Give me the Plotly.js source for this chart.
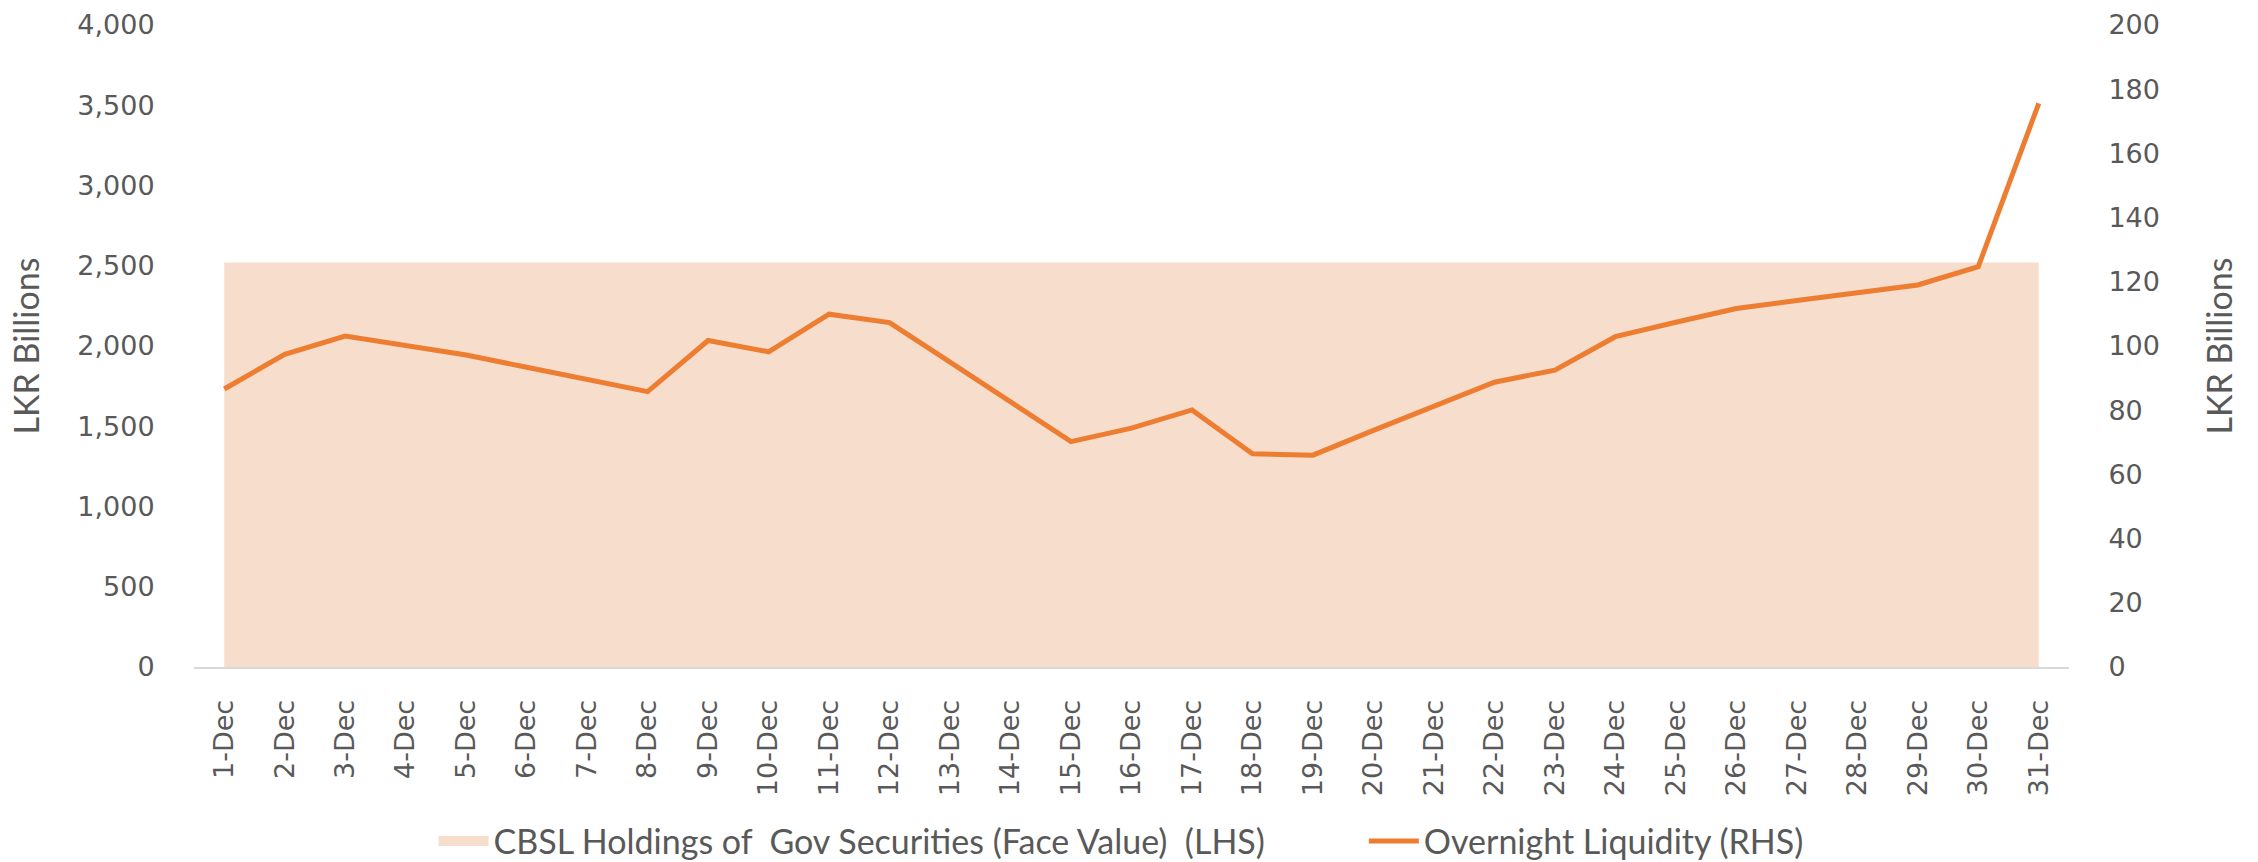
<!DOCTYPE html>
<html>
<head>
<meta charset="utf-8">
<script src="https://cdn.plot.ly/plotly-3.0.1.min.js"></script>
<style>
  html, body { margin: 0; padding: 0; background: #ffffff; }
  #chart { width: 2258px; height: 862px; }
</style>
</head>
<body>
<div id="chart"></div>
<script>
const dates = ['1-Dec','2-Dec','3-Dec','4-Dec','5-Dec','6-Dec','7-Dec','8-Dec','9-Dec','10-Dec',
  '11-Dec','12-Dec','13-Dec','14-Dec','15-Dec','16-Dec','17-Dec','18-Dec','19-Dec','20-Dec',
  '21-Dec','22-Dec','23-Dec','24-Dec','25-Dec','26-Dec','27-Dec','28-Dec','29-Dec','30-Dec','31-Dec'];

const holdings = [2520, 2520, 2520, 2520, 2520, 2520, 2520, 2520, 2520, 2520,
  2520, 2520, 2520, 2520, 2520, 2520, 2520, 2520, 2520, 2520,
  2520, 2520, 2520, 2520, 2520, 2520, 2520, 2520, 2520, 2520, 2520];

const liquidity = [86.6, 97.4, 103.1, 100.2, 97.2, 93.4, 89.6, 85.8, 101.7, 98.2,
  109.9, 107.3, 95.0, 82.7, 70.2, 74.4, 80.1, 66.4, 66.0, 73.7,
  81.3, 88.7, 92.5, 102.9, 107.4, 111.7, 114.2, 116.6, 119.0, 124.7, 175.6];

const leftTicks = [0, 500, 1000, 1500, 2000, 2500, 3000, 3500, 4000];
const rightTicks = [0, 20, 40, 60, 80, 100, 120, 140, 160, 180, 200];

const holdingsName = 'CBSL Holdings of  Gov Securities (Face Value)  (LHS)';
const liquidityName = 'Overnight Liquidity (RHS)';

const textColor = '#595959';
const areaColor = '#f7ddcc';
const lineColor = '#ed7d31';
const tickFont = { family: 'DejaVu Sans', size: 27, color: textColor };
const titleFont = { family: 'Lato', size: 34, color: textColor };
const legendFont = { family: 'Lato', size: 34, color: textColor };

const traces = [
  {
    type: 'scatter',
    mode: 'lines',
    name: holdingsName,
    x: dates,
    y: holdings,
    fill: 'tozeroy',
    fillcolor: areaColor,
    line: { width: 0, color: areaColor },
    yaxis: 'y',
    showlegend: false
  },
  {
    // legend-only entry giving the area series a block swatch
    type: 'scatter',
    mode: 'lines',
    name: holdingsName,
    x: [null],
    y: [null],
    line: { width: 26, color: areaColor },
    yaxis: 'y',
    legend: 'legend',
    showlegend: true
  },
  {
    type: 'scatter',
    mode: 'lines',
    name: liquidityName,
    x: dates,
    y: liquidity,
    line: { width: 5, color: lineColor },
    yaxis: 'y2',
    legend: 'legend2'
  }
];

const layout = {
  width: 2258,
  height: 862,
  paper_bgcolor: '#ffffff',
  plot_bgcolor: 'rgba(0,0,0,0)',
  margin: { l: 194, r: 189, t: 25, b: 195 },
  showlegend: true,
  legend: {
    orientation: 'h',
    xref: 'container',
    yref: 'container',
    x: 0.192,
    xanchor: 'left',
    y: 0.024,
    yanchor: 'middle',
    bgcolor: 'rgba(0,0,0,0)',
    font: legendFont,
    itemwidth: 50
  },
  legend2: {
    orientation: 'h',
    xref: 'container',
    yref: 'container',
    x: 0.604,
    xanchor: 'left',
    y: 0.024,
    yanchor: 'middle',
    bgcolor: 'rgba(0,0,0,0)',
    font: legendFont,
    itemwidth: 50
  },
  xaxis: {
    type: 'category',
    categoryorder: 'array',
    categoryarray: dates,
    range: [-0.5, 30.5],
    automargin: false,
    showgrid: false,
    zeroline: false,
    showline: true,
    linecolor: '#d9d9d9',
    linewidth: 2,
    ticks: 'outside',
    ticklen: 20,
    tickcolor: 'rgba(0,0,0,0)',
    tickangle: -90,
    tickfont: tickFont,
    fixedrange: true
  },
  yaxis: {
    range: [0, 4000],
    automargin: false,
    tickvals: leftTicks,
    tickformat: ',d',
    showgrid: false,
    zeroline: false,
    showline: false,
    ticks: 'outside',
    ticklen: 33,
    tickcolor: 'rgba(0,0,0,0)',
    tickfont: tickFont,
    title: { text: 'LKR Billions', font: titleFont, standoff: 27 },
    fixedrange: true
  },
  yaxis2: {
    overlaying: 'y',
    side: 'right',
    range: [0, 200],
    automargin: false,
    tickvals: rightTicks,
    showgrid: false,
    zeroline: false,
    showline: false,
    ticks: 'outside',
    ticklen: 33,
    tickcolor: 'rgba(0,0,0,0)',
    tickfont: tickFont,
    title: { text: 'LKR Billions', font: titleFont, standoff: 49 },
    fixedrange: true
  }
};

Plotly.newPlot('chart', traces, layout, { displayModeBar: false, staticPlot: true });
</script>
</body>
</html>
